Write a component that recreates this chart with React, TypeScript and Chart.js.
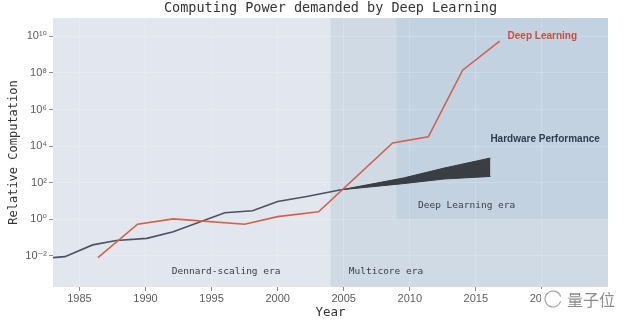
import React, { useEffect, useRef } from "react";
import { Chart, registerables } from "chart.js";

Chart.register(...registerables);

const titleText = "Computing Power demanded by Deep Learning";
const xAxisTitle = "Year";
const yAxisTitle = "Relative Computation";

const xTicks = [1985, 1990, 1995, 2000, 2005, 2010, 2015, 2020];
const yTicks = [1e-2, 1, 1e2, 1e4, 1e6, 1e8, 1e10];
const yTickLabels = ["10⁻²", "10⁰", "10²", "10⁴", "10⁶", "10⁸", "10¹⁰"];

const dlYears = [1986.4, 1989.4, 1992.1, 1997.5, 2000.0, 2003.1, 2008.7, 2011.4, 2014.0, 2016.8];
const dlValues = [0.0081, 0.54, 1.05, 0.54, 1.4, 2.6, 15000, 32000, 1.4e8, 5.4e9];

const hwYears = [1983, 1983.9, 1986.0, 1987.8, 1990.1, 1992.1, 1996.0, 1998.1, 2000.0, 2002.2, 2004.8];
const hwValues = [0.0081, 0.0091, 0.04, 0.069, 0.091, 0.21, 2.3, 2.95, 9.5, 17.8, 41];

const bandYears = [2004.8, 2009.5, 2012.6, 2016.1];
const bandUpper = [41, 180, 630, 2240];
const bandLower = [41, 89, 160, 220];

const multicoreStart = 2004;
const deepLearningStart = 2009;
const deepLearningFloor = 1;

const seriesLabels = ["Deep Learning", "Hardware Performance"];
const eraLabels = ["Dennard-scaling era", "Multicore era", "Deep Learning era"];

const pts = (xs: number[], ys: number[]) => xs.map((x, i) => ({ x, y: ys[i] }));

const decorPlugin = {
  id: "decor",
  beforeDraw(chart: any) {
    const { ctx, chartArea: a, scales } = chart;
    const x = scales.x;
    const y = scales.y;
    ctx.save();
    ctx.fillStyle = "#e2e6ee";
    ctx.fillRect(a.left, a.top, a.right - a.left, a.bottom - a.top);
    const mx = x.getPixelForValue(multicoreStart);
    ctx.fillStyle = "#cfdae5";
    ctx.fillRect(mx, a.top, a.right - mx, a.bottom - a.top);
    const dx = x.getPixelForValue(deepLearningStart);
    const dy = y.getPixelForValue(deepLearningFloor);
    ctx.fillStyle = "#c2d2e0";
    ctx.fillRect(dx, a.top, a.right - dx, dy - a.top);
    ctx.restore();
  },
  afterDraw(chart: any) {
    const { ctx, chartArea: a, scales } = chart;
    const x = scales.x;
    const y = scales.y;
    const cx = (a.left + a.right) / 2;
    ctx.save();
    ctx.textBaseline = "middle";

    // title
    ctx.fillStyle = "#333333";
    ctx.textAlign = "center";
    ctx.font = "13.5px 'DejaVu Sans Mono'";
    ctx.fillText(titleText, cx, 8);

    // axis titles
    ctx.font = "12.5px 'DejaVu Sans Mono'";
    ctx.fillText(xAxisTitle, cx, 313);
    ctx.save();
    ctx.translate(14, (a.top + a.bottom) / 2);
    ctx.rotate(-Math.PI / 2);
    ctx.font = "12px 'DejaVu Sans Mono'";
    ctx.fillText(yAxisTitle, 0, 0);
    ctx.restore();

    // series labels
    ctx.textAlign = "left";
    ctx.font = "bold 10px 'Liberation Sans'";
    ctx.fillStyle = "#cc4e39";
    ctx.fillText(seriesLabels[0], x.getPixelForValue(2017.4), y.getPixelForValue(1e10));
    ctx.fillStyle = "#2f3c4e";
    ctx.fillText(seriesLabels[1], x.getPixelForValue(2016.1), y.getPixelForValue(2.4e4));

    // era labels
    ctx.textAlign = "center";
    ctx.font = "9.5px 'DejaVu Sans Mono'";
    ctx.fillStyle = "#3a4049";
    ctx.fillText(eraLabels[0], x.getPixelForValue(1996.1), y.getPixelForValue(1.35e-3));
    ctx.fillText(eraLabels[1], x.getPixelForValue(2008.2), y.getPixelForValue(1.35e-3));
    ctx.fillText(eraLabels[2], x.getPixelForValue(2014.3), y.getPixelForValue(6));

    // watermark
    ctx.fillStyle = "#ffffff";
    ctx.fillRect(541, 289, 84, 22);
    ctx.strokeStyle = "#a0a0a0";
    ctx.lineWidth = 1.2;
    ctx.beginPath();
    ctx.arc(553, 299, 8, 0.3, Math.PI * 2 - 0.3);
    ctx.stroke();
    ctx.fillStyle = "#8c8c8c";
    ctx.font = "16px 'Noto Sans CJK SC'";
    ctx.textAlign = "left";
    ctx.fillText("量子位", 567, 300);
    ctx.restore();
  },
};

export default function App() {
  const ref = useRef<HTMLCanvasElement | null>(null);

  useEffect(() => {
    if (!ref.current) return;
    const tickFont = { family: "'Liberation Sans', 'DejaVu Sans'", size: 11 };
    const chart = new Chart(ref.current, {
      type: "line",
      data: {
        datasets: [
          {
            label: seriesLabels[0],
            data: pts(dlYears, dlValues),
            borderColor: "#d4604a",
            borderWidth: 1.6,
            pointRadius: 0,
            fill: false,
            tension: 0,
          },
          {
            label: seriesLabels[1],
            data: pts(hwYears, hwValues),
            borderColor: "#4b5263",
            borderWidth: 1.6,
            pointRadius: 0,
            fill: false,
            tension: 0,
          },
          {
            label: "Hardware upper",
            data: pts(bandYears, bandUpper),
            borderColor: "#3a3d41",
            backgroundColor: "#3a3d41",
            borderWidth: 1,
            pointRadius: 0,
            fill: "+1",
            tension: 0,
          },
          {
            label: "Hardware lower",
            data: pts(bandYears, bandLower),
            borderColor: "#3a3d41",
            borderWidth: 1,
            pointRadius: 0,
            fill: false,
            tension: 0,
          },
        ],
      },
      options: {
        animation: false,
        responsive: false,
        maintainAspectRatio: false,
        layout: { padding: { top: 18, right: 32, bottom: 0, left: 0 } },
        plugins: {
          legend: { display: false },
          tooltip: { enabled: false },
          title: { display: false },
        },
        scales: {
          x: {
            type: "linear",
            min: 1983,
            max: 2025,
            afterBuildTicks: (s: any) => {
              s.ticks = xTicks.map((v) => ({ value: v }));
            },
            afterFit: (s: any) => {
              s.height = 42;
            },
            ticks: {
              callback: (v: any) => String(v),
              font: tickFont,
              color: "#5a5a5a",
              padding: 1,
              maxRotation: 0,
              autoSkip: false,
            },
            grid: {
              color: "rgba(255,255,255,0.18)",
              tickColor: "#8a8a8a",
              tickLength: 4,
            },
            border: { display: false },
          },
          y: {
            type: "logarithmic",
            min: 2e-4,
            max: 1e11,
            afterBuildTicks: (s: any) => {
              s.ticks = yTicks.map((v) => ({ value: v }));
            },
            afterFit: (s: any) => {
              s.width = 53;
            },
            ticks: {
              callback: (v: any) => {
                const i = yTicks.indexOf(Number(v));
                return i >= 0 ? yTickLabels[i] : "";
              },
              font: tickFont,
              color: "#5a5a5a",
              padding: 2,
              autoSkip: false,
            },
            grid: {
              color: "rgba(255,255,255,0.18)",
              tickColor: "#8a8a8a",
              tickLength: 4,
            },
            border: { display: false },
          },
        },
      },
      plugins: [decorPlugin],
    });
    return () => chart.destroy();
  }, []);

  return (
    <div style={{ position: "absolute", left: 0, top: 0, width: 640, height: 329, background: "#ffffff" }}>
      <canvas ref={ref} width={640} height={329} />
    </div>
  );
}
